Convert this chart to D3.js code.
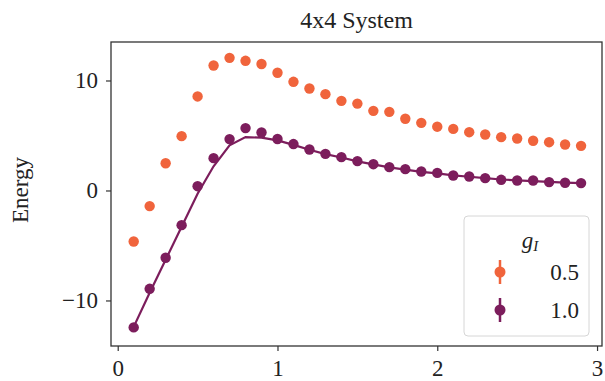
<!DOCTYPE html>
<html><head><meta charset="utf-8">
<script src="https://cdn.jsdelivr.net/npm/d3@7"></script>
<style>body{margin:0;background:#fff}svg{display:block}</style>
</head><body>
<svg id="c" width="605" height="381"></svg>
<script>
const xs = [0.1,0.2,0.3,0.4,0.5,0.6,0.7,0.8,0.9,1.0,1.1,1.2,1.3,1.4,1.5,1.6,1.7,1.8,1.9,2.0,2.1,2.2,2.3,2.4,2.5,2.6,2.7,2.8,2.9];
const energyG05 = [-4.64,-1.42,2.48,4.94,8.55,11.36,12.06,11.79,11.5,10.7,9.88,9.27,8.76,8.15,7.9,7.24,7.15,6.52,6.15,5.8,5.6,5.3,5.09,4.85,4.73,4.52,4.39,4.18,4.06];
const energyG10 = [-12.45,-8.94,-6.12,-3.15,0.39,2.94,4.67,5.67,5.27,4.68,4.22,3.73,3.33,3.03,2.67,2.39,2.12,1.94,1.73,1.6,1.36,1.27,1.12,0.97,0.91,0.91,0.76,0.70,0.67];
const exactG10 = [-12.4,-9.3,-6.3,-3.3,-0.3,2.2,4.1,4.85,4.8,4.55,4.15,3.7,3.3,3.0,2.65,2.37,2.1,1.9,1.7,1.55,1.38,1.25,1.12,1.0,0.92,0.85,0.78,0.72,0.67];
const seriesNames = ["0.5","1.0"];
const xTicks = [0,1,2,3];
const yTicks = [-10,0,10];
const colors = ["#f0643c","#7c1d5c"];

const FONT = "'Liberation Serif', 'DejaVu Serif', serif";
const svg = d3.select("#c");
const L=111,R=602,T=42,B=346;
const x = d3.scaleLinear().domain([-0.042,3.031]).range([L,R]);
const y = d3.scaleLinear().domain([-14.14,13.5]).range([B,T]);

// series
const line = d3.line().x((d,i)=>x(xs[i])).y(d=>y(d));
svg.append("path").datum(exactG10).attr("d",line).attr("fill","none")
  .attr("stroke",colors[1]).attr("stroke-width",2.2);
[energyG05,energyG10].forEach((arr,k)=>{
  svg.append("g").selectAll("circle").data(arr).join("circle")
    .attr("cx",(d,i)=>x(xs[i])).attr("cy",d=>y(d)).attr("r",5.2)
    .attr("fill",colors[k]);
});

// axes
const ax = svg.append("g").attr("transform",`translate(0,${B})`)
  .call(d3.axisBottom(x).tickValues(xTicks).tickFormat(d3.format("d")).tickSize(5).tickPadding(8));
const ay = svg.append("g").attr("transform",`translate(${L},0)`)
  .call(d3.axisLeft(y).tickValues(yTicks).tickFormat(d=>d<0?"\u2212"+Math.abs(d):d).tickSize(5).tickPadding(8));
[ax,ay].forEach(g=>{
  g.select(".domain").remove();
  g.selectAll(".tick line").attr("stroke","#333").attr("stroke-width",1.2);
  g.selectAll(".tick text").attr("font-family",FONT).attr("font-size",23).attr("fill","#222");
});
ax.selectAll(".tick text").attr("dy","0.72em");
// spines
svg.append("rect").attr("x",L).attr("y",T).attr("width",R-L).attr("height",B-T)
  .attr("fill","none").attr("stroke","#333").attr("stroke-width",1.3);

// title & label
svg.append("text").attr("x",(L+R)/2).attr("y",28).attr("text-anchor","middle")
  .attr("font-family",FONT).attr("font-size",24).attr("fill","#222").text("4x4 System");
svg.append("text").attr("transform","translate(28,190) rotate(-90)").attr("text-anchor","middle")
  .attr("font-family",FONT).attr("font-size",23).attr("fill","#222").text("Energy");

// legend
const lg = svg.append("g");
lg.append("rect").attr("x",464).attr("y",216).attr("width",125).attr("height",120).attr("rx",4)
  .attr("fill","#fff").attr("fill-opacity",0.8).attr("stroke","#d6d6d6").attr("stroke-width",1);
const lt = lg.append("text").attr("x",530).attr("y",248).attr("text-anchor","middle")
  .attr("font-family",FONT).attr("font-size",23).attr("font-style","italic").attr("fill","#222");
lt.append("tspan").text("g");
lt.append("tspan").attr("font-size",15).attr("dy",3).text("I");
seriesNames.forEach((n,k)=>{
  const cy = 272 + k*38;
  lg.append("line").attr("x1",500).attr("x2",500).attr("y1",cy-12).attr("y2",cy+12)
    .attr("stroke",colors[k]).attr("stroke-width",2.5);
  lg.append("circle").attr("cx",500).attr("cy",cy).attr("r",5.5).attr("fill",colors[k]);
  lg.append("text").attr("x",579).attr("y",cy+8).attr("text-anchor","end")
    .attr("font-family",FONT).attr("font-size",23).attr("fill","#222").text(n);
});
</script>
</body></html>
